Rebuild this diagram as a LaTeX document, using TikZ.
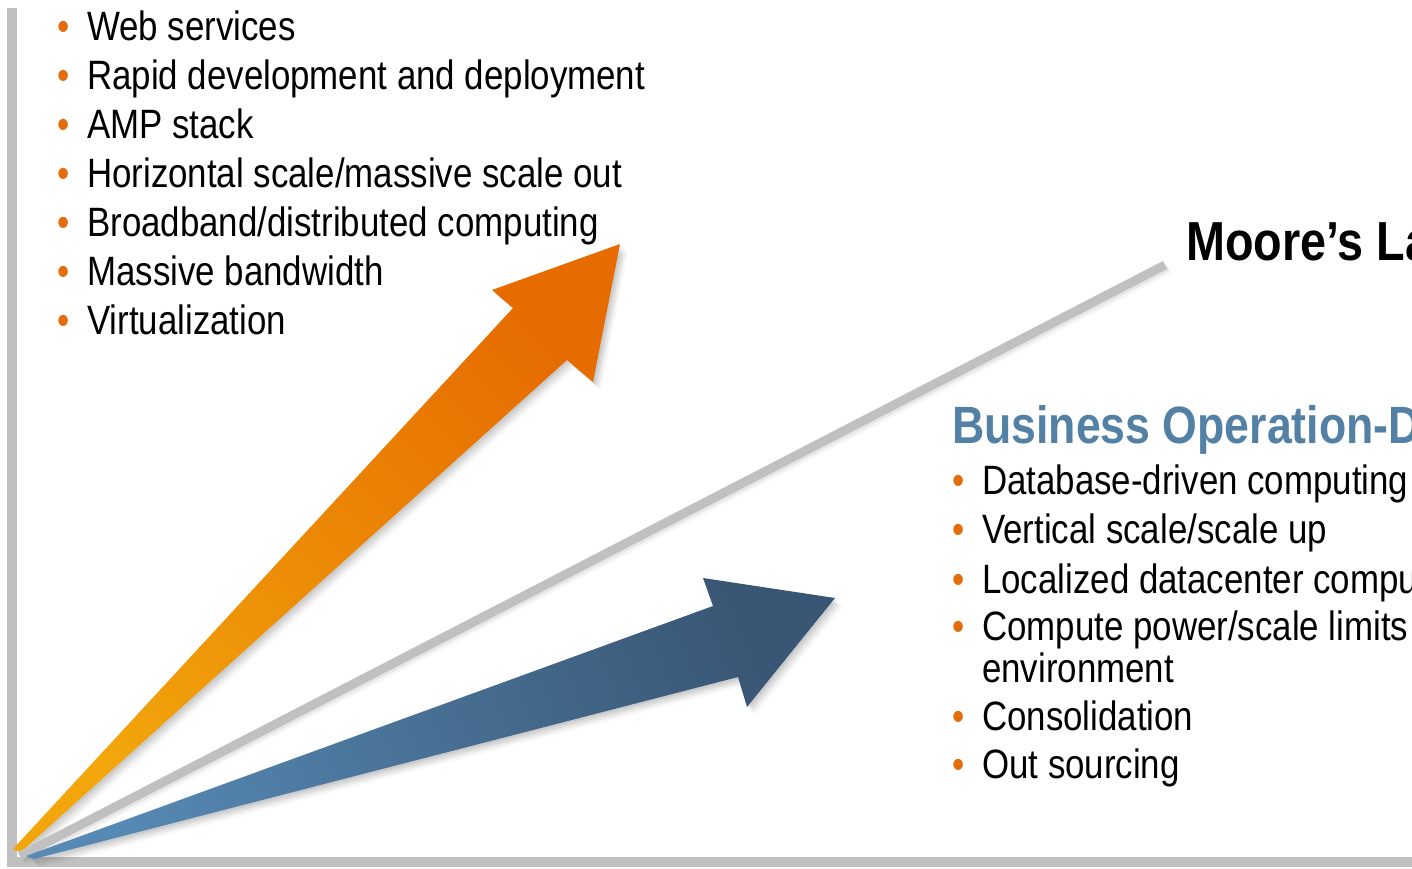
\documentclass[tikz,border=0pt]{standalone}
\usepackage{fontspec}
\setmainfont{Liberation Sans}[FakeStretch=0.85]
\definecolor{borange}{HTML}{E46C0A}
\definecolor{headblue}{HTML}{5381A5}
\definecolor{axisgray}{HTML}{C0C0C0}
\definecolor{orangehead}{HTML}{E66C00}
\definecolor{orangetail}{HTML}{F2A60C}
\definecolor{bluehead}{HTML}{395674}
\definecolor{bluetail}{HTML}{5689B4}
\newcommand\bulletmark{\makebox[30pt][l]{\textcolor{borange}{•}}}
\newcommand\orangeshape[1]{\path[#1] (13,849) -- (513,308) -- (492,290) -- (620,244) -- (593,382) -- (567,360) -- (21,852) -- cycle;}
\newcommand\blueshape[1]{\path[#1] (26,856) -- (713,606) -- (703,578) -- (835,598) -- (747,707) -- (738,677) -- (34,859) -- cycle;}
\begin{document}
\begin{tikzpicture}[x=1pt,y=-1pt,
  item/.style={anchor=base west, inner sep=0pt, text=black, font=\fontsize{41}{49}\selectfont},
  heading/.style={anchor=base west, inner sep=0pt, font=\fontsize{52.5}{56}\selectfont\bfseries},
  shadowfill/.style={fill=black, opacity=#1}]
\useasboundingbox (0,0) rectangle (1412,868);
\clip (0,0) rectangle (1412,868);
\fill[white] (0,0) rectangle (1412,868);
% axes
\fill[axisgray] (7,8) rectangle (17,867);
\fill[axisgray] (7,857) rectangle (1412,867);
% orange arrow
\foreach \d/\o in {2/0.07,4/0.06,6/0.05,8/0.03}{\orangeshape{shadowfill=\o, shift={(\d,\d)}}}
\orangeshape{top color=orangehead, bottom color=orangetail, shading angle=-45}
% grey line
\foreach \d/\o in {2/0.06,4/0.04}{\draw[line width=9pt, black, opacity=\o, shift={(\d,\d)}] (20,856) -- (1165,265);}
\draw[line width=9pt, axisgray] (20,856) -- (1165,265);
% blue arrow
\foreach \d/\o in {2/0.07,4/0.06,6/0.05,8/0.03}{\blueshape{shadowfill=\o, shift={(\d,\d)}}}
\blueshape{top color=bluehead, bottom color=bluetail, shading angle=-68}
% top list
\node[item] (t1) at (57,40) {\bulletmark Web services};
\node[item] (t2) at (57,89) {\bulletmark Rapid development and deployment};
\node[item] (t3) at (57,138) {\bulletmark AMP stack};
\node[item] (t4) at (57,187) {\bulletmark Horizontal scale/massive scale out};
\node[item] (t5) at (57,236) {\bulletmark Broadband/distributed computing};
\node[item] (t6) at (57,285) {\bulletmark Massive bandwidth};
\node[item] (t7) at (57,334) {\bulletmark Virtualization};
% Moore's law
\node[heading, font=\fontsize{55}{60}\selectfont\bfseries, text=black] (moore) at (1186,260) {Moore’s Law};
% business heading
\node[heading, text=headblue] (bus) at (952,443) {Business Operation-Driven Computing};
\node[item] (b1) at (952,494) {\bulletmark Database-driven computing};
\node[item] (b2) at (952,543) {\bulletmark Vertical scale/scale up};
\node[item] (b3) at (952,593) {\bulletmark Localized datacenter computing};
\node[item] (b4) at (952,640) {\bulletmark Compute power/scale limits};
\node[item] (b4b) at (982,682) {environment};
\node[item] (b5) at (952,730) {\bulletmark Consolidation};
\node[item] (b6) at (952,778) {\bulletmark Out sourcing};
\end{tikzpicture}
\end{document}
